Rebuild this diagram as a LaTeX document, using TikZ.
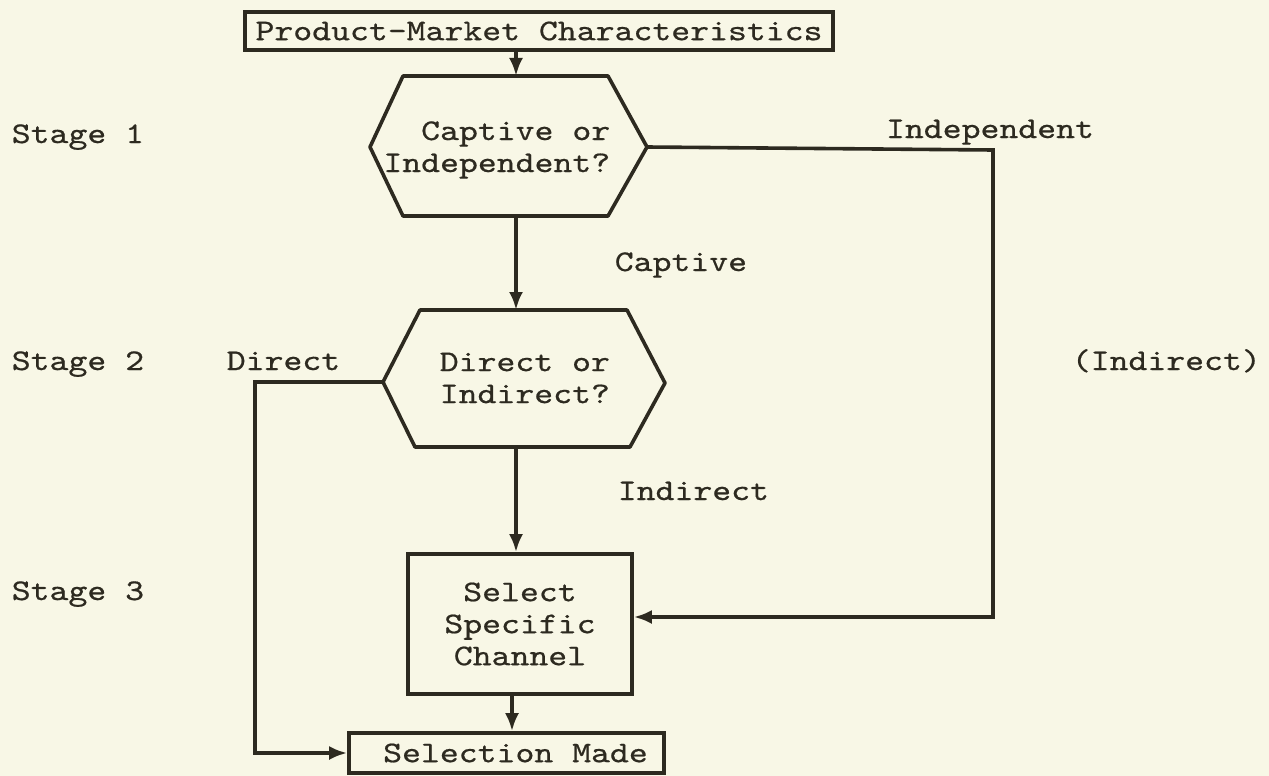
\documentclass[tikz,border=0pt]{standalone}
\usepackage{fontspec}
\newfontfamily\tw[Extension=.otf, FakeStretch=1.2, FakeBold=0.6]{lmmono10-regular}
\usetikzlibrary{arrows.meta}
\definecolor{paper}{RGB}{248,247,230}
\definecolor{ink}{RGB}{45,42,32}
\begin{document}
\begin{tikzpicture}[x=1pt,y=-1pt, line width=3.6pt, draw=ink,
  every node/.style={font=\tw\fontsize{30}{32}\selectfont, text=ink},
  box/.style={draw=ink, rectangle, inner sep=0pt},
  lbl/.style={inner sep=0pt},
  arr/.style={-{Latex[length=18pt,width=14pt]}},
  hexa/.style={draw=ink, line join=round}]
\fill[paper] (0,0) rectangle (1269,776);
\useasboundingbox (0,0) rectangle (1269,776);

% nodes
\node[box, minimum width=588pt, minimum height=38pt] (pmc) at (539,31) {Product-Market Characteristics};

\coordinate (h1t) at (516,76); \coordinate (h1b) at (516,216);
\coordinate (h1r) at (647,147); \coordinate (h1l) at (370,147);
\draw[hexa] (403,76) -- (608,76) -- (h1r) -- (608,216) -- (403,216) -- (h1l) -- cycle;
\node[lbl, align=right, anchor=east] (q1) at (612,150) {Captive or\\Independent?};

\coordinate (h2t) at (516,310); \coordinate (h2b) at (516,447);
\coordinate (h2l) at (383,382); \coordinate (h2r) at (665,383);
\draw[hexa] (420,310) -- (627,310) -- (h2r) -- (630,447) -- (415,447) -- (h2l) -- cycle;
\node[lbl, align=left, anchor=west] (q2) at (438,378) {Direct or\\Indirect?};

\node[box, minimum width=224pt, minimum height=140pt, align=center] (sel) at (520,624) {Select\\Specific\\Channel};
\node[box, minimum width=315pt, minimum height=40pt] (made) at (506.5,753) {\hspace{18pt}Selection Made};

% connectors
\draw[arr] (h1t |- pmc.south) -- (h1t);
\draw[arr] (h1b) -- (h2t);
\draw[arr] (h2b) -- (h2b |- sel.north);
\draw[arr] ([xshift=-8pt]sel.south) -- ([xshift=-8pt]sel.south |- made.north);
\coordinate (dcorner) at (255,382);
\draw[arr] (h2l) -- (dcorner) |- (made.west);
\coordinate (icorner) at (993,150);
\coordinate (ibot) at (993,617);
\draw[arr] (h1r) -- (icorner) -- (ibot) -- (sel.east |- ibot);

% labels
\node[lbl, anchor=base west] (s1) at (10,143) {Stage 1};
\node[lbl, anchor=base west] (s2) at (10,370) {Stage 2};
\node[lbl, anchor=base west] (s3) at (10,600) {Stage 3};
\node[lbl, anchor=base] (lind) at (990,138) {Independent};
\node[lbl, anchor=base west] (lcap) at (613,271) {Captive};
\node[lbl, anchor=base west] (ldir) at (225,370) {Direct};
\node[lbl, anchor=base west] (lpind) at (1070,370) {(Indirect)};
\node[lbl, anchor=base west] (lindr) at (616,500) {Indirect};
\end{tikzpicture}
\end{document}
